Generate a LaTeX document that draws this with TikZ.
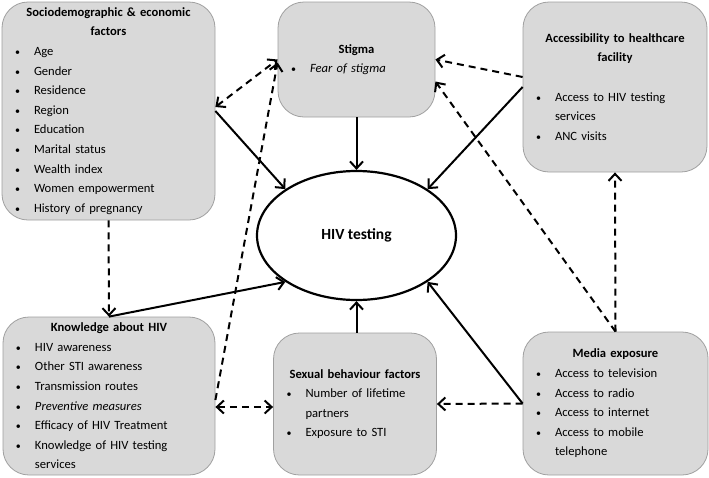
\documentclass[tikz,border=0pt]{standalone}
\usepackage{fontspec}
\setmainfont{Carlito}
\usepackage{tikz}
\usetikzlibrary{arrows.meta,shapes.geometric}

\definecolor{boxfill}{HTML}{D9D9D9}
\definecolor{boxline}{HTML}{A0A0A0}

\newcommand{\boxhead}[1]{{\centering\bfseries #1\par}}
\newcommand{\bitem}[1]{\noindent\makebox[32pt][l]{\hspace{13pt}{\fontsize{10}{10}\selectfont\textbullet}}#1\par}
\newcommand{\bcont}[1]{\noindent\hspace*{32pt}#1\par}
\newcommand{\bgap}{\noindent\mbox{}\par}

\begin{document}
\begin{tikzpicture}[x=1pt,y=-1pt,
  factor/.style={draw=boxline,fill=boxfill,line width=0.8pt,rounded corners=26pt,
    inner sep=0pt,align=left,font=\fontsize{12.6}{19.6}\selectfont},
  solidarrow/.style={line width=2pt,-{Straight Barb[length=7pt,width=13pt]}},
  dasharrow/.style={solidarrow,dash pattern=on 7pt off 5pt},
  dashboth/.style={dasharrow,{Straight Barb[length=7pt,width=13pt]}-{Straight Barb[length=7pt,width=13pt]}}]
  \useasboundingbox (0,0) rectangle (709,477);

  \node[factor,minimum height=218pt,text width=213pt] (socio) at (108.5,111) {%
    \boxhead{Sociodemographic \& economic}\boxhead{factors}
    \bitem{Age}\bitem{Gender}\bitem{Residence}\bitem{Region}\bitem{Education}
    \bitem{Marital status}\bitem{Wealth index}\bitem{Women empowerment}
    \bitem{History of pregnancy}};
  \node[factor,minimum height=115pt,text width=157pt] (stigma) at (356.5,59.5) {%
    \boxhead{Stigma}\bitem{\textit{Fear of stigma}}};
  \node[factor,minimum height=170pt,text width=184pt] (access) at (615,87) {%
    \boxhead{Accessibility to healthcare}\boxhead{facility}\bgap
    \bitem{Access to HIV testing}\bcont{services}\bitem{ANC visits}};
  \node[factor,minimum height=158pt,text width=212pt] (knowledge) at (109,396) {%
    \boxhead{Knowledge about HIV}
    \bitem{HIV awareness}\bitem{Other STI awareness}\bitem{Transmission routes}
    \bitem{\textit{Preventive measures}}\bitem{Efficacy of HIV Treatment}
    \bitem{Knowledge of HIV testing}\bcont{services}};
  \node[factor,minimum height=142pt,text width=163pt] (sexual) at (355,404) {%
    \boxhead{Sexual behaviour factors}
    \bitem{Number of lifetime}\bcont{partners}\bitem{Exposure to STI}};
  \node[factor,minimum height=143pt,text width=185pt] (media) at (615.5,403.5) {%
    \boxhead{Media exposure}
    \bitem{Access to television}\bitem{Access to radio}\bitem{Access to internet}
    \bitem{Access to mobile}\bcont{telephone}};

  \node[draw,ellipse,fill=white,line width=2.2pt,minimum width=199pt,minimum height=129pt,
    inner sep=0pt,font=\fontsize{15.5}{18}\selectfont\bfseries] (hiv) at (356.5,235.5) {HIV testing};

  % direct paths to testing
  \draw[solidarrow] (socio.east) -- (hiv.north west);
  \draw[solidarrow] (stigma.south) -- (hiv.north);
  \draw[solidarrow] (access.west) -- (hiv.north east);
  \draw[solidarrow] (media.west) -- (hiv.south east);
  \draw[solidarrow] (hiv.south |- sexual.north) -- (hiv.south);
  \draw[solidarrow] (knowledge.north) -- (hiv.south west);

  % links between factors
  \draw[dasharrow] (socio.south) -- (knowledge.north);
  \draw[dashboth] ([yshift=4pt]socio.east) -- (stigma.west);
  \draw[dasharrow] ([yshift=-4pt]knowledge.east) -- ([yshift=-3pt]stigma.west);
  \draw[dashboth] ([yshift=-11pt]knowledge.east) -- ([yshift=-3pt]sexual.west);
  \draw[dasharrow] ([yshift=10pt]access.west) -- (stigma.east);
  \draw[dasharrow] (media.north) -- (access.south);
  \draw[dasharrow] (media.north) -- ([yshift=-22pt]stigma.east);
  \draw[dasharrow] (media.west) -- (sexual.east);
\end{tikzpicture}
\end{document}
